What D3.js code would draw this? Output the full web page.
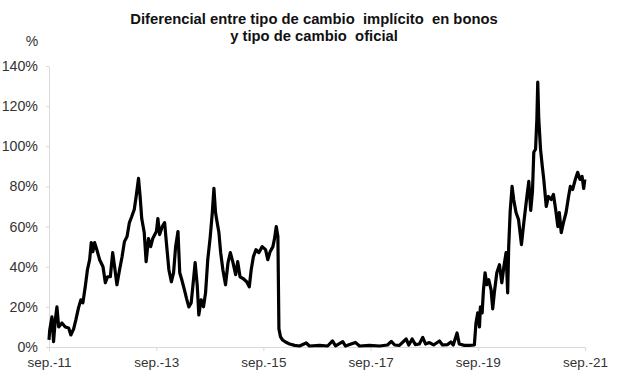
<!DOCTYPE html>
<html>
<head>
<meta charset="utf-8">
<script src="https://cdn.jsdelivr.net/npm/d3@7"></script>
<style>
    body { margin: 0; background: #fff; }
    svg text { font-family: "Liberation Sans", Arial, sans-serif; }
</style>
</head>
<body>
<div id="graph"></div>
<script>
// Diferencial (%) entre tipo de cambio implícito en bonos y tipo de cambio oficial
const fechas = [
    "2011-09-01", "2011-09-06", "2011-09-21", "2011-10-02", "2011-10-14", "2011-10-25",
    "2011-11-06", "2011-11-28", "2011-12-21", "2012-01-13", "2012-01-28", "2012-02-16",
    "2012-03-02", "2012-03-20", "2012-04-05", "2012-04-19", "2012-05-05", "2012-05-20",
    "2012-06-04", "2012-06-15", "2012-06-26", "2012-07-08", "2012-07-23", "2012-08-11",
    "2012-09-03", "2012-09-19", "2012-10-04", "2012-10-23", "2012-11-08", "2012-11-21",
    "2012-12-07", "2012-12-25", "2013-01-11", "2013-01-27", "2013-02-14", "2013-03-02",
    "2013-03-18", "2013-04-04", "2013-04-17", "2013-05-03", "2013-05-14", "2013-05-25",
    "2013-06-11", "2013-06-24", "2013-07-10", "2013-07-25", "2013-08-08", "2013-09-02",
    "2013-09-12", "2013-09-24", "2013-10-12", "2013-10-28", "2013-11-09", "2013-11-26",
    "2013-12-13", "2013-12-28", "2014-01-11", "2014-01-27", "2014-02-08", "2014-02-22",
    "2014-03-12", "2014-03-27", "2014-04-11", "2014-04-27", "2014-05-08", "2014-05-24",
    "2014-06-07", "2014-06-18", "2014-07-04", "2014-07-20", "2014-08-03", "2014-08-18",
    "2014-09-04", "2014-09-18", "2014-09-29", "2014-10-10", "2014-10-21", "2014-11-02",
    "2014-11-14", "2014-11-29", "2014-12-17", "2015-01-03", "2015-01-19", "2015-02-06",
    "2015-02-24", "2015-03-10", "2015-03-26", "2015-04-18", "2015-05-10", "2015-05-28",
    "2015-06-10", "2015-06-25", "2015-07-13", "2015-08-01", "2015-08-24", "2015-09-16",
    "2015-10-01", "2015-10-17", "2015-11-05", "2015-11-16", "2015-11-28", "2015-12-09",
    "2015-12-16", "2015-12-27", "2016-01-10", "2016-01-30", "2016-02-27", "2016-04-01",
    "2016-05-04", "2016-06-19", "2016-07-11", "2016-09-18", "2016-11-12", "2016-12-15",
    "2017-01-05", "2017-02-23", "2017-03-13", "2017-05-20", "2017-06-17", "2017-08-24",
    "2017-11-01", "2017-12-25", "2018-01-20", "2018-02-12", "2018-03-16", "2018-05-01",
    "2018-05-19", "2018-06-11", "2018-07-03", "2018-07-30", "2018-08-22", "2018-09-10",
    "2018-10-07", "2018-11-04", "2018-12-14", "2019-01-04", "2019-02-08", "2019-03-02",
    "2019-03-18", "2019-04-13", "2019-04-28", "2019-06-02", "2019-07-05", "2019-08-09",
    "2019-08-20", "2019-09-01", "2019-09-13", "2019-09-19", "2019-10-01", "2019-10-10",
    "2019-10-21", "2019-11-02", "2019-11-15", "2019-12-01", "2019-12-12", "2019-12-23",
    "2020-01-09", "2020-01-27", "2020-02-12", "2020-02-26", "2020-03-12", "2020-03-23",
    "2020-03-30", "2020-04-09", "2020-04-22", "2020-05-03", "2020-05-19", "2020-06-05",
    "2020-06-25", "2020-07-11", "2020-08-01", "2020-08-14", "2020-08-27", "2020-09-08",
    "2020-09-17", "2020-09-29", "2020-10-08", "2020-10-14", "2020-10-21", "2020-11-02",
    "2020-11-14", "2020-11-24", "2020-12-11", "2020-12-26", "2021-01-14", "2021-01-29",
    "2021-02-13", "2021-02-28", "2021-03-10", "2021-03-23", "2021-04-07", "2021-04-25",
    "2021-05-12", "2021-05-24", "2021-06-09", "2021-06-27", "2021-07-13", "2021-07-29",
    "2021-08-12", "2021-08-23", "2021-08-31"
];

const valores = [
    3.5, 8.5, 15, 2.7, 13.5, 20,
    10, 12, 10, 9.5, 6, 9,
    13.5, 19.5, 23.5, 22, 30, 38.5,
    43.5, 52, 47.5, 52, 48.5, 43.5,
    40, 32, 35, 35, 47, 40,
    31, 38.5, 45, 52.5, 55, 62,
    65, 68.5, 75, 84, 75, 64,
    57, 42.5, 54, 50, 54, 57.5,
    64, 56, 60, 62, 52, 38.5,
    32.5, 37, 50, 57.5, 37, 33.5,
    28.5, 24, 20, 22, 30, 42,
    31, 16, 23.5, 20, 27, 43.5,
    55, 67, 79, 67, 62, 57,
    47, 38.5, 31, 42, 47, 42,
    36, 42.5, 35, 34, 32.5, 30,
    38.5, 45, 48.5, 47, 50, 48.5,
    43.5, 47.5, 50, 54, 60, 55,
    9, 5, 3.5, 2.5, 1.5, 0.8,
    0.5, 2, 0.5, 0.8, 0.5, 3,
    0.6, 2.7, 0.5, 2.3, 0.5, 0.8,
    0.5, 1, 2.8, 1, 0.8, 4,
    1, 4, 1.2, 1.5, 4.8, 1.5,
    2.2, 1, 3, 1, 1.2, 2.5,
    1, 7, 1.5, 0.8, 0.8, 1,
    12, 17, 10, 20, 17, 28.5,
    37, 31, 33.5, 28.5, 19, 27,
    37, 41, 32, 40, 47, 27,
    50, 67.5, 80, 73.5, 67, 63.5,
    51, 62, 75, 82.5, 68, 77.5,
    97, 98.5, 113.5, 132, 113.5, 98.5,
    90, 83.5, 70, 75, 73.5, 76,
    68.5, 60, 67, 57, 62, 67,
    75, 80, 78.5, 83.5, 87, 83.5,
    85, 79, 83.5
];

const xTickFechas = ["2011-09-01", "2013-09-01", "2015-09-01", "2017-09-01", "2019-09-01", "2021-09-01"];
const xTickEtiquetas = ["sep.-11", "sep.-13", "sep.-15", "sep.-17", "sep.-19", "sep.-21"];
const yTicks = [0, 20, 40, 60, 80, 100, 120, 140];

const titulo = ["Diferencial entre tipo de cambio  implícito  en bonos", "y tipo de cambio  oficial"];

const parseFecha = d3.timeParse("%Y-%m-%d");
const datos = fechas.map((f, i) => ({ fecha: parseFecha(f), valor: valores[i] }));

const w = 617;
const h = 387;
const margin = { top: 66, right: 32, bottom: 40, left: 49 };
const innerWidth = w - margin.left - margin.right;
const innerHeight = h - margin.top - margin.bottom;

const svg = d3.select("#graph")
    .append("svg")
    .attr("width", w)
    .attr("height", h);

// titulo en dos lineas
svg.append("g")
    .selectAll("text")
    .data(titulo)
    .enter()
    .append("text")
    .attr("x", 314)
    .attr("y", (d, i) => 24 + i * 17)
    .attr("text-anchor", "middle")
    .style("font-size", "14.8px")
    .style("font-weight", "bold")
    .style("white-space", "pre")
    .attr("fill", "#111")
    .text(d => d);

svg.append("text")
    .attr("x", 32)
    .attr("y", 46)
    .attr("text-anchor", "middle")
    .style("font-size", "14px")
    .attr("fill", "#333")
    .text("%");

const xScale = d3.scaleTime()
    .domain([parseFecha(xTickFechas[0]), parseFecha(xTickFechas[xTickFechas.length - 1])])
    .range([0, innerWidth]);

const yScale = d3.scaleLinear()
    .domain([0, 140])
    .range([innerHeight, 0]);

const g = svg.append("g")
    .attr("transform", `translate(${margin.left},${margin.top})`);

const xAxis = d3.axisBottom(xScale)
    .tickValues(xTickFechas.map(parseFecha))
    .tickFormat((d, i) => xTickEtiquetas[i])
    .tickSize(4)
    .tickSizeOuter(0);

const yAxis = d3.axisLeft(yScale)
    .tickValues(yTicks)
    .tickFormat(d => d + "%")
    .tickSize(3)
    .tickSizeOuter(0);

const yAxisG = g.append("g").call(yAxis);
yAxisG.select(".domain").attr("stroke", "#d9d9d9");
yAxisG.selectAll(".tick line").attr("stroke", "#d9d9d9");
yAxisG.selectAll(".tick text")
    .attr("x", -11)
    .attr("fill", "#333")
    .style("font-size", "14.2px");

const xAxisG = g.append("g").call(xAxis)
    .attr("transform", `translate(0, ${innerHeight})`);
xAxisG.select(".domain").attr("stroke", "#d9d9d9");
xAxisG.selectAll(".tick line").attr("stroke", "#d9d9d9");
xAxisG.selectAll(".tick text")
    .attr("y", 10)
    .attr("fill", "#333")
    .style("font-size", "13.5px");

// serie
const lineGenerator = d3.line()
    .x(d => xScale(d.fecha))
    .y(d => yScale(d.valor));

g.append("path")
    .attr("d", lineGenerator(datos))
    .attr("fill", "none")
    .attr("stroke", "#000")
    .attr("stroke-width", 3.2)
    .attr("stroke-linejoin", "round");
</script>
</body>
</html>
